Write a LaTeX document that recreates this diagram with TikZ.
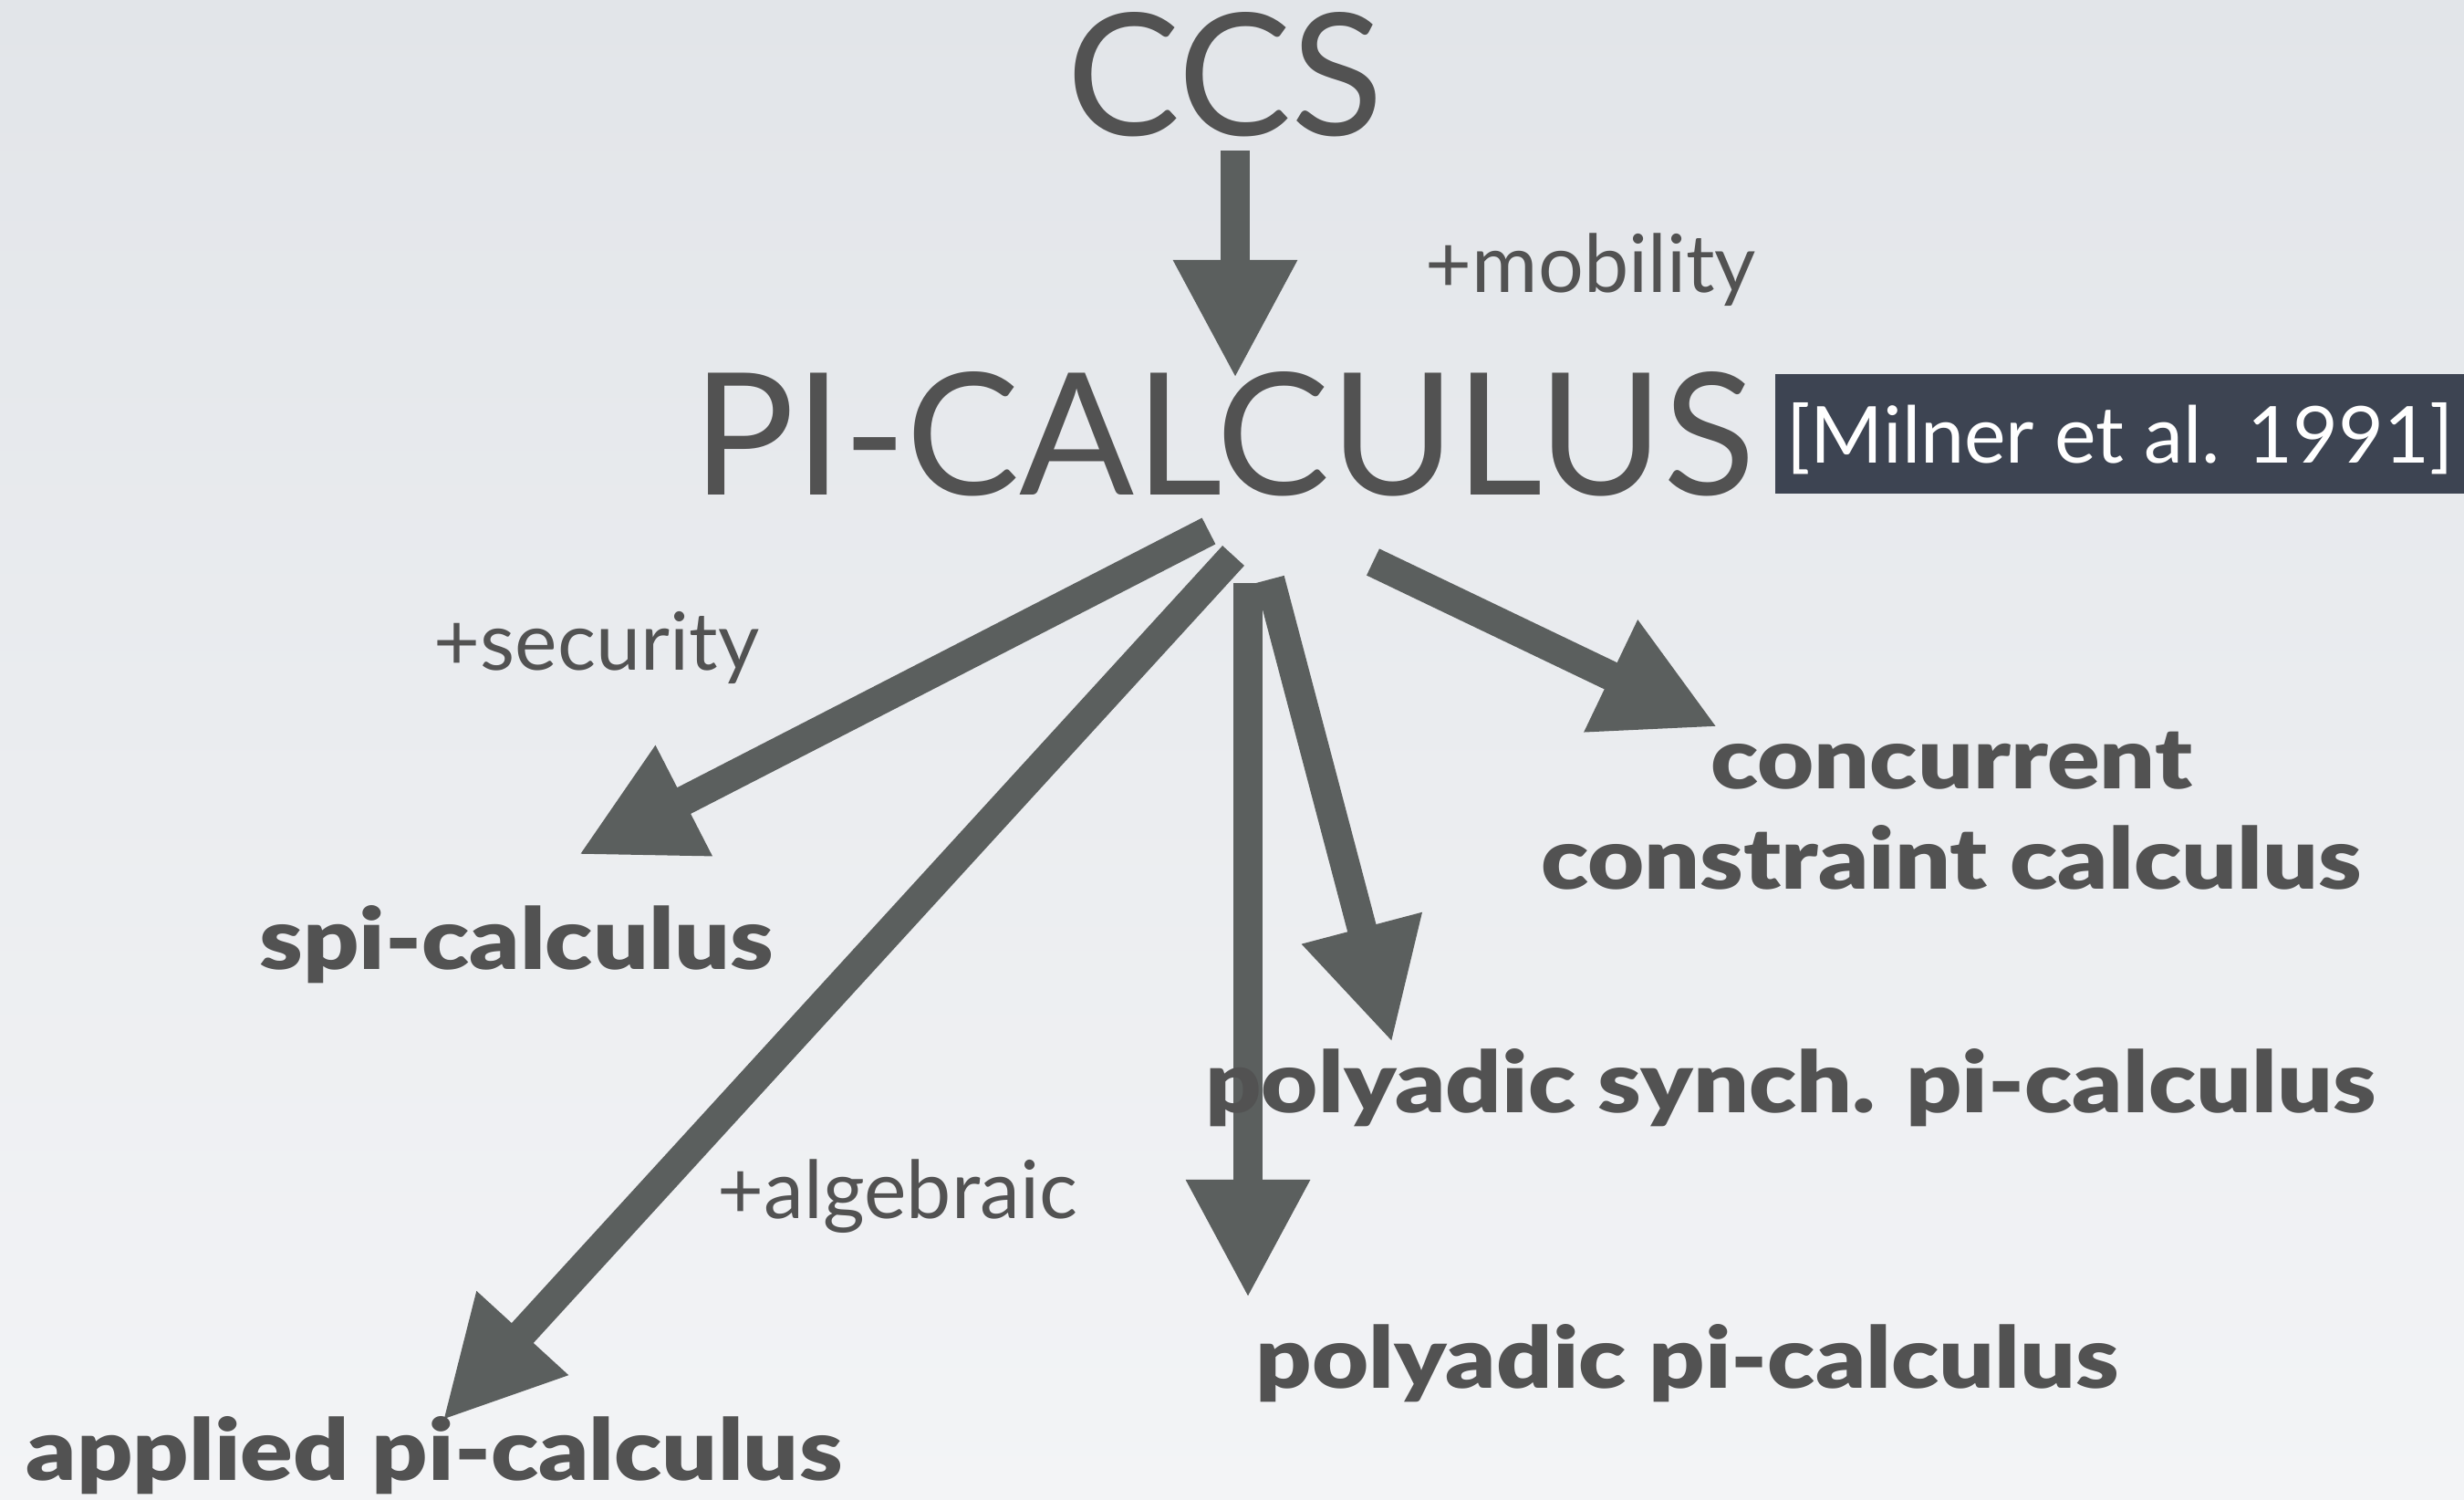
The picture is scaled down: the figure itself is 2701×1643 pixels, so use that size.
\documentclass[tikz,border=0pt]{standalone}
\usepackage{fontspec}
\setmainfont{Lato}
\newfontfamily\heavyfont[FakeStretch=1.15]{Lato Black}
\usetikzlibrary{arrows.meta}
\definecolor{ink}{RGB}{82,82,82}
\definecolor{arrowgrey}{RGB}{91,95,94}
\definecolor{slate}{RGB}{61,68,82}
\definecolor{bgtop}{RGB}{226,229,233}
\definecolor{bgbot}{RGB}{243,244,246}

\begin{document}
\begin{tikzpicture}[x=0.01cm,y=-0.01cm,>={Triangle[length=37pt,width=36pt]},
  big/.style={anchor=base,inner sep=0,text=ink,font=\fontsize{53}{60}\selectfont},
  note/.style={anchor=base,inner sep=0,text=ink,font=\fontsize{25}{30}\selectfont},
  calc/.style={anchor=base,inner sep=0,text=ink,font=\heavyfont\fontsize{26.5}{31}\selectfont},
  extend/.style={->,draw=arrowgrey,line width=9.2pt}]
\useasboundingbox (0,0) rectangle (2701,1643);
\shade[top color=bgtop,bottom color=bgbot] (0,0) rectangle (2701,1643);
% arrow ends
\coordinate (ccs-out) at (1354,165);
\coordinate (pi-in) at (1354,415);
\coordinate (spi-out) at (1325,582);
\coordinate (spi-in) at (634,937);
\coordinate (app-out) at (1352,609);
\coordinate (app-in) at (485,1557);
\coordinate (poly-out) at (1368,639);
\coordinate (poly-in) at (1368,1423);
\coordinate (syn-out) at (1392,635);
\coordinate (syn-in) at (1526,1143);
\coordinate (ccc-out) at (1505,616);
\coordinate (ccc-in) at (1883,797);
\draw[extend] (ccs-out) -- (pi-in);
\draw[extend] (spi-out) -- (spi-in);
\draw[extend] (app-out) -- (app-in);
\draw[extend] (poly-out) -- (poly-in);
\draw[extend] (syn-out) -- (syn-in);
\draw[extend] (ccc-out) -- (ccc-in);
% calculi
\node[big] (ccs) at (1343,149) {CCS};
\node[big] (pi) at (1342,542) {PI-CALCULUS};
\fill[slate] (1946,410) rectangle (2701,541);
\node[anchor=base,inner sep=0,text=white,font=\fontsize{24.5}{30}\selectfont] (milner) at (2324,508) {[Milner et al. 1991]};
\node[note] (mob) at (1744,321) {+mobility};
\node[note] (sec) at (654,734) {+security};
\node[note] (alg) at (984,1335) {+algebraic};
\node[calc] (spi) at (566,1062) {spi-calculus};
\node[calc,align=center] (ccc) at (2139,974) {concurrent\\constraint calculus};
\node[calc] (syn) at (1963,1219) {polyadic synch. pi-calculus};
\node[calc] (poly) at (1850,1521) {polyadic pi-calculus};
\node[calc] (app) at (476,1622) {applied pi-calculus};
\end{tikzpicture}
\end{document}
